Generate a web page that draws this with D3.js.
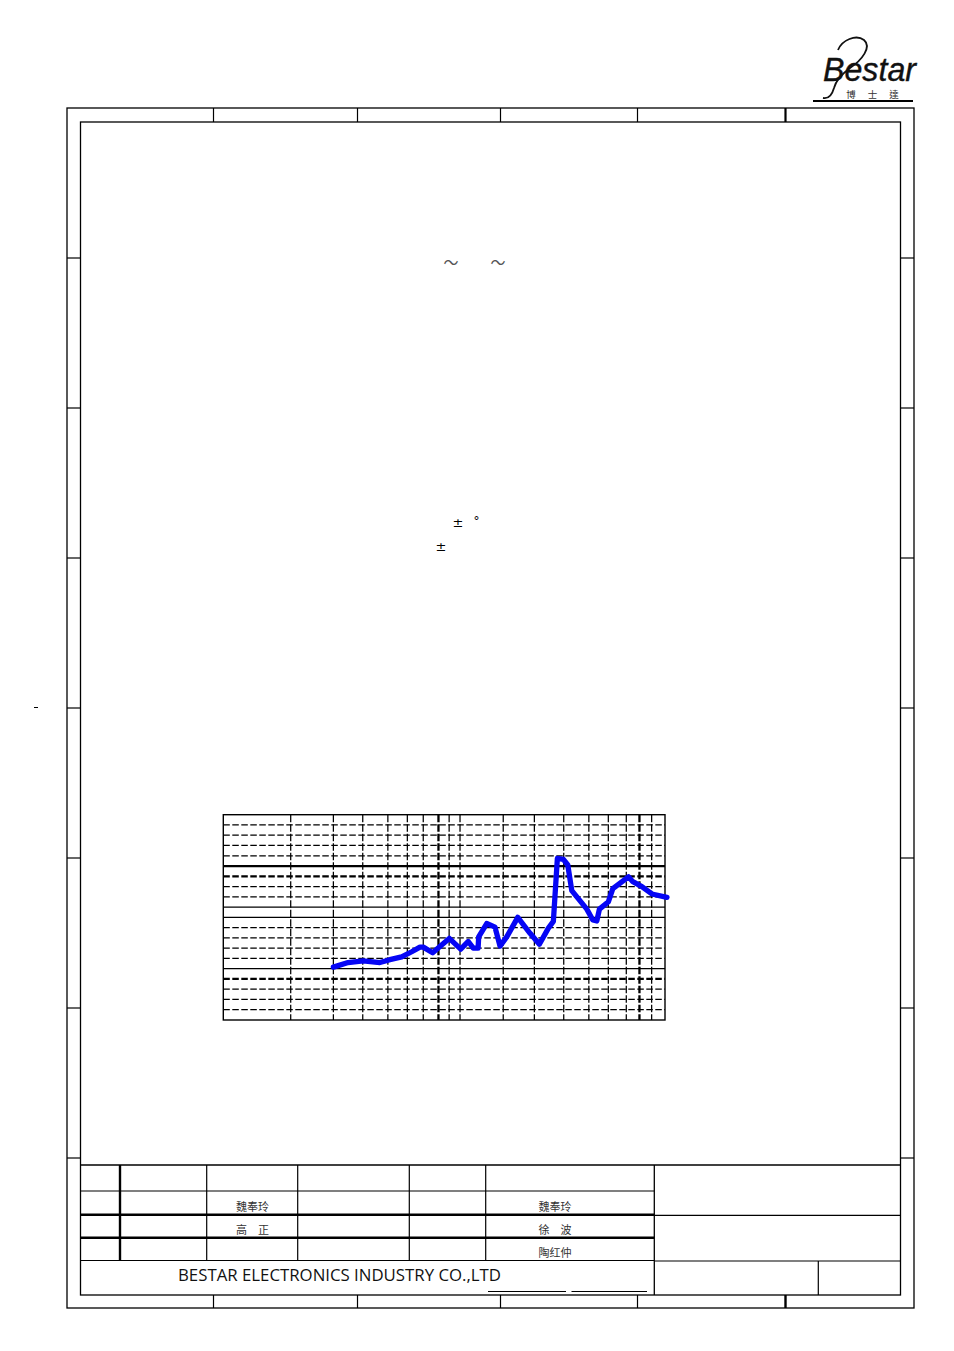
<!DOCTYPE html>
<html>
<head>
<meta charset="utf-8">
<script src="https://cdn.jsdelivr.net/npm/d3@7"></script>
<style>
  html, body { margin: 0; padding: 0; background: #fff; }
  svg { display: block; }
</style>
</head>
<body>
<svg id="page" width="954" height="1351"></svg>
<script>
// ---------------- DATA ----------------
// Frequency response curve (Hz, dB SPL)
const freqHz = [300, 355, 422, 511, 573, 656, 736, 809, 840, 936, 1037, 1132, 1290, 1407, 1490, 1575, 1585,
  1738, 1911, 2024, 2186, 2480, 2856, 3177, 3523, 3730, 3905, 4183, 4399, 4606, 5471, 5861, 6136, 6322,
  7008, 7370, 8814, 9271, 10280, 11530, 13700];
const splDb = [70.3, 71.2, 71.5, 71.2, 71.75, 72.3, 73.3, 74.2, 74.2, 73.1, 74.6, 75.9, 73.8, 75.3, 74.0, 74.0, 76.2,
  78.8, 78.1, 74.4, 76.2, 80.0, 76.9, 74.75, 77.9, 79.2, 91.5, 91.3, 90.2, 85.2, 81.6, 79.5, 79.3, 81.6,
  83.05, 85.6, 87.9, 86.95, 86.0, 84.55, 83.9];

// Axis extents and grid lines
const xDomain = [85, 13400];
const yDomain = [60, 100];
const xGridHz = [184, 300, 420, 560, 700, 840, 1000, 1130, 1280, 2100, 3000, 4200, 5600, 7000, 8600, 10000, 11500];
const xBoldHz = [1000, 10000];
const yGridDb = [62, 64, 66, 68, 70, 72, 74, 76, 78, 80, 82, 84, 86, 88, 90, 92, 94, 96, 98];
const ySolidDb = [90, 82, 80, 70];
const yBoldDb = [90, 88, 68];

// Text content
const tildes = ["～", "～"];
const plusMinus = ["±", "±"];
const degree = "°";
const namesLeft = ["魏奉玲", "高　正"];
const namesRight = ["魏奉玲", "徐　波", "陶红仲"];
const company = "BESTAR ELECTRONICS INDUSTRY CO.,LTD";
const logoText = "Bestar";
const logoCn = ["博", "士", "達"];

// ---------------- DRAWING ----------------
const svg = d3.select("#page");
const black = "#000";

function line(x1, y1, x2, y2, w) {
  svg.append("line").attr("x1", x1).attr("y1", y1).attr("x2", x2).attr("y2", y2)
    .attr("stroke", black).attr("stroke-width", w || 1.2);
}

// Page frames
svg.append("rect").attr("x", 67).attr("y", 108).attr("width", 847).attr("height", 1200)
  .attr("fill", "none").attr("stroke", black).attr("stroke-width", 1.3);
svg.append("rect").attr("x", 80.5).attr("y", 122).attr("width", 820).attr("height", 1173)
  .attr("fill", "none").attr("stroke", black).attr("stroke-width", 1.3);

// Zone markers top/bottom
[213.5, 357.5, 500.5, 637.5].forEach(x => { line(x, 108, x, 122); line(x, 1295, x, 1308); });
line(785.5, 108, 785.5, 122, 2.2);
line(785.5, 1295, 785.5, 1308, 2.4);
// Zone markers left/right
[258, 408, 558, 708, 858, 1008, 1158].forEach(y => { line(67, y, 80.5, y); line(900.5, y, 914, y); });

// small dash at left margin
line(34, 707.5, 38, 707.5, 1);

// Logo
const logo = svg.append("g");
logo.append("text").attr("x", 823).attr("y", 81).text(logoText)
  .attr("font-family", "Liberation Sans, Arial, sans-serif").attr("font-style", "italic")
  .attr("font-size", 34).attr("textLength", 93).attr("lengthAdjust", "spacingAndGlyphs")
  .attr("fill", "#111").attr("stroke", "#111").attr("stroke-width", 0.4);
logo.append("path")
  .attr("d", "M838,50 C842,40 856,34 864,40 C872,47 862,60 850,68 C842,74 836,80 834,88 C832,95 828,99 823,98")
  .attr("fill", "none").attr("stroke", "#111").attr("stroke-width", 1.8);
logoCn.forEach((c, i) => {
  logo.append("text").attr("x", 851 + i * 21.5).attr("y", 97.5).text(c)
    .attr("text-anchor", "middle").attr("font-family", "Noto Sans CJK TC, sans-serif")
    .attr("font-size", 9.5).attr("fill", "#333");
});
line(813, 101, 913, 101, 1.8);

// Stray symbols (text fragments)
tildes.forEach((t, i) => {
  svg.append("text").attr("x", [451, 498][i]).attr("y", 268).text(t)
    .attr("text-anchor", "middle").attr("font-family", "Noto Sans CJK SC, sans-serif")
    .attr("font-size", 15).attr("fill", "#555");
});
svg.append("text").attr("x", 458).attr("y", 527).text(plusMinus[0])
  .attr("text-anchor", "middle").attr("font-family", "DejaVu Sans, sans-serif").attr("font-size", 13).attr("fill", black);
svg.append("text").attr("x", 476.5).attr("y", 525).text(degree)
  .attr("text-anchor", "middle").attr("font-family", "DejaVu Sans, sans-serif").attr("font-size", 12).attr("fill", black);
svg.append("text").attr("x", 441).attr("y", 551).text(plusMinus[1])
  .attr("text-anchor", "middle").attr("font-family", "DejaVu Sans, sans-serif").attr("font-size", 13).attr("fill", black);

// ---------------- CHART ----------------
const plot = { left: 223.3, right: 665, top: 814.7, bottom: 1020 };
const x = d3.scaleLog().domain(xDomain).range([plot.left, plot.right]);
const y = d3.scaleLinear().domain(yDomain).range([plot.bottom, plot.top]);

const chart = svg.append("g");
// horizontal grid
chart.selectAll("line.hg").data(yGridDb).join("line").attr("class", "hg")
  .attr("x1", plot.left).attr("x2", plot.right)
  .attr("y1", d => y(d)).attr("y2", d => y(d))
  .attr("stroke", black)
  .attr("stroke-width", d => yBoldDb.includes(d) ? 2.3 : 1.25)
  .attr("stroke-dasharray", d => ySolidDb.includes(d) ? null : "6.5,2.5");
// vertical grid
chart.selectAll("line.vg").data(xGridHz).join("line").attr("class", "vg")
  .attr("y1", plot.top).attr("y2", plot.bottom)
  .attr("x1", d => x(d)).attr("x2", d => x(d))
  .attr("stroke", black)
  .attr("stroke-width", d => xBoldHz.includes(d) ? 2.3 : 1.25)
  .attr("stroke-dasharray", "7.5,2");
// frame
chart.append("rect").attr("x", plot.left).attr("y", plot.top)
  .attr("width", plot.right - plot.left).attr("height", plot.bottom - plot.top)
  .attr("fill", "none").attr("stroke", black).attr("stroke-width", 1.4);

// curve
const pts = freqHz.map((f, i) => [f, splDb[i]]);
chart.append("path").datum(pts)
  .attr("d", d3.line().x(d => x(d[0])).y(d => y(d[1])))
  .attr("fill", "none").attr("stroke", "#0505f5").attr("stroke-width", 5.3)
  .attr("stroke-linejoin", "round").attr("stroke-linecap", "round");

// ---------------- TITLE BLOCK ----------------
line(80.5, 1165, 900.5, 1165, 1.3);
// left rows
line(80.5, 1191, 654.3, 1191, 1.2);
line(80.5, 1214.7, 654.3, 1214.7, 2.4);
line(80.5, 1237.7, 654.3, 1237.7, 2.4);
line(80.5, 1260.5, 654.3, 1260.5, 1.2);
// left columns
line(120, 1165, 120, 1260.5, 2.4);
[206.7, 297.7, 409.3, 485.7].forEach(xx => line(xx, 1165, xx, 1260.5, 1.2));
line(654.3, 1165, 654.3, 1295, 1.3);
// right block
line(654.3, 1215.3, 900.5, 1215.3, 1.2);
line(654.3, 1261, 900.5, 1261, 1.2);
line(818.3, 1261, 818.3, 1295, 1.2);
// signature underlines
line(488, 1291.5, 566, 1291.5, 1);
line(571.5, 1291.5, 647, 1291.5, 1);

const cnFont = "Noto Sans CJK SC, sans-serif";
namesLeft.forEach((n, i) => {
  svg.append("text").attr("x", 252.5).attr("y", [1211, 1234][i]).text(n)
    .attr("text-anchor", "middle").attr("font-family", cnFont).attr("font-size", 11)
    .attr("fill", "#333");
});
namesRight.forEach((n, i) => {
  svg.append("text").attr("x", 555).attr("y", [1211, 1234, 1256.5][i]).text(n)
    .attr("text-anchor", "middle").attr("font-family", cnFont).attr("font-size", 11)
    .attr("fill", "#333");
});
svg.append("text").attr("x", 178).attr("y", 1280.5).text(company)
  .attr("font-family", "Open Sans, sans-serif").attr("font-size", 16)
  .attr("textLength", 323).attr("lengthAdjust", "spacingAndGlyphs").attr("fill", "#111");
</script>
</body>
</html>
